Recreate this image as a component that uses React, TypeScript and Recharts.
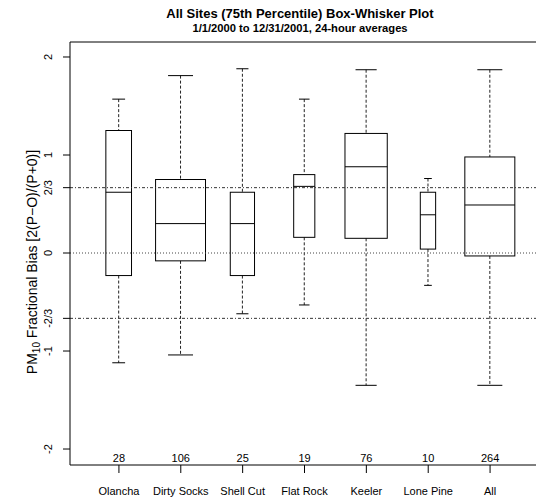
import React from 'react';
import { ComposedChart, Bar, XAxis, YAxis, ReferenceLine } from 'recharts';

const sites = ['Olancha', 'Dirty Socks', 'Shell Cut', 'Flat Rock', 'Keeler', 'Lone Pine', 'All'];
const counts = [28, 106, 25, 19, 76, 10, 264];
const lowerWhisker = [-1.12, -1.04, -0.62, -0.53, -1.35, -0.33, -1.35];
const lowerQuartile = [-0.23, -0.08, -0.23, 0.16, 0.15, 0.04, -0.03];
const medians = [0.62, 0.3, 0.3, 0.68, 0.88, 0.39, 0.49];
const upperQuartile = [1.25, 0.75, 0.62, 0.8, 1.22, 0.62, 0.98];
const upperWhisker = [1.57, 1.81, 1.88, 1.57, 1.87, 0.76, 1.87];
const yTicks = [-2, -1, -2 / 3, 0, 2 / 3, 1, 2];
const yTickLabels = ['-2', '-1', '-2/3', '0', '2/3', '1', '2'];

const Y_MIN = -2.163;
const Y_MAX = 2.153;
const FONT = '"Liberation Sans", Arial, Helvetica, sans-serif';

const rows = sites.map((site, i) => ({
  site,
  n: counts[i],
  lo: lowerWhisker[i],
  q1: lowerQuartile[i],
  med: medians[i],
  q3: upperQuartile[i],
  hi: upperWhisker[i],
}));

// box + whiskers drawn from the pixel span of the [lo, hi] range bar
const BoxShape = (props: any) => {
  const { x, y, width, height, payload } = props;
  if (!payload) return null;
  const top = Math.min(y, y + height);
  const span = Math.abs(height);
  const { lo, q1, med, q3, hi, n } = payload;
  const toPx = (v: number) => top + (span * (hi - v)) / (hi - lo);
  const cx = x + width / 2;
  const boxW = Math.min(4.85 * Math.sqrt(n), 50);
  const capW = boxW / 2;
  const yHi = toPx(hi);
  const yQ3 = toPx(q3);
  const yMed = toPx(med);
  const yQ1 = toPx(q1);
  const yLo = toPx(lo);
  return (
    <g>
      <line x1={cx} x2={cx} y1={yHi} y2={yQ3} stroke="#222" strokeDasharray="3 2" />
      <line x1={cx} x2={cx} y1={yQ1} y2={yLo} stroke="#222" strokeDasharray="3 2" />
      <line x1={cx - capW / 2} x2={cx + capW / 2} y1={yHi} y2={yHi} stroke="#000" />
      <line x1={cx - capW / 2} x2={cx + capW / 2} y1={yLo} y2={yLo} stroke="#000" />
      <rect x={cx - boxW / 2} y={yQ3} width={boxW} height={yQ1 - yQ3} fill="none" stroke="#000" />
      <line x1={cx - boxW / 2} x2={cx + boxW / 2} y1={yMed} y2={yMed} stroke="#000" />
    </g>
  );
};

const SiteTick = (props: any) => {
  const { x, y, payload } = props;
  const i = sites.indexOf(payload.value);
  return (
    <g fontFamily={FONT} fontSize={11} fill="#000">
      <text x={x} y={y - 11} textAnchor="middle">{counts[i]}</text>
      <text x={x} y={y + 22} textAnchor="middle">{payload.value}</text>
    </g>
  );
};

const BiasTick = (props: any) => {
  const { x, y, payload } = props;
  const i = yTicks.findIndex((t) => Math.abs(t - payload.value) < 1e-6);
  const bx = x - 11;
  return (
    <text x={bx} y={y} transform={`rotate(-90 ${bx} ${y})`} textAnchor="middle"
      fontFamily={FONT} fontSize={11} fill="#000">
      {yTickLabels[i]}
    </text>
  );
};

export default function App() {
  return (
    <div style={{ position: 'absolute', left: 0, top: 0, width: 536, height: 501, background: '#fff', fontFamily: FONT }}>
      <div style={{ position: 'absolute', left: 0, width: 600, top: 6, textAlign: 'center', fontWeight: 'bold', fontSize: 13 }}>
        All Sites (75th Percentile) Box-Whisker Plot
      </div>
      <div style={{ position: 'absolute', left: 0, width: 600, top: 22, textAlign: 'center', fontWeight: 'bold', fontSize: 11.2 }}>
        1/1/2000 to 12/31/2001, 24-hour averages
      </div>
      <ComposedChart width={536} height={501} data={rows} margin={{ top: 42, right: 0, bottom: 0, left: 0 }}>
        <XAxis dataKey="site" height={36} tickSize={8} tickMargin={0} stroke="#000" tickLine={{ stroke: '#000' }}
          axisLine={{ stroke: '#000' }} padding={{ left: 18, right: 15 }} tick={<SiteTick />} interval={0} />
        <YAxis type="number" domain={[Y_MIN, Y_MAX]} ticks={yTicks} width={70} tickSize={7} tickMargin={0}
          allowDataOverflow stroke="#000" axisLine={{ stroke: '#000' }} tickLine={{ stroke: '#000' }} tick={<BiasTick />}
          label={() => (
            <text x={37} y={262} transform="rotate(-90 37 262)" textAnchor="middle" fontFamily={FONT} fontSize={14} fill="#000">
              PM<tspan fontSize={10} dy={3}>10</tspan><tspan dy={-3}> Fractional Bias [2(P−O)/(P+0)]</tspan>
            </text>
          )} />
        <ReferenceLine y={Y_MAX} stroke="#000" />
        <ReferenceLine y={2 / 3} stroke="#333" strokeDasharray="3 2 1 2" />
        <ReferenceLine y={0} stroke="#444" strokeDasharray="1 2" />
        <ReferenceLine y={-2 / 3} stroke="#333" strokeDasharray="3 2 1 2" />
        <Bar dataKey={(d: any) => [d.lo, d.hi]} shape={<BoxShape />} isAnimationActive={false} />
      </ComposedChart>
    </div>
  );
}
